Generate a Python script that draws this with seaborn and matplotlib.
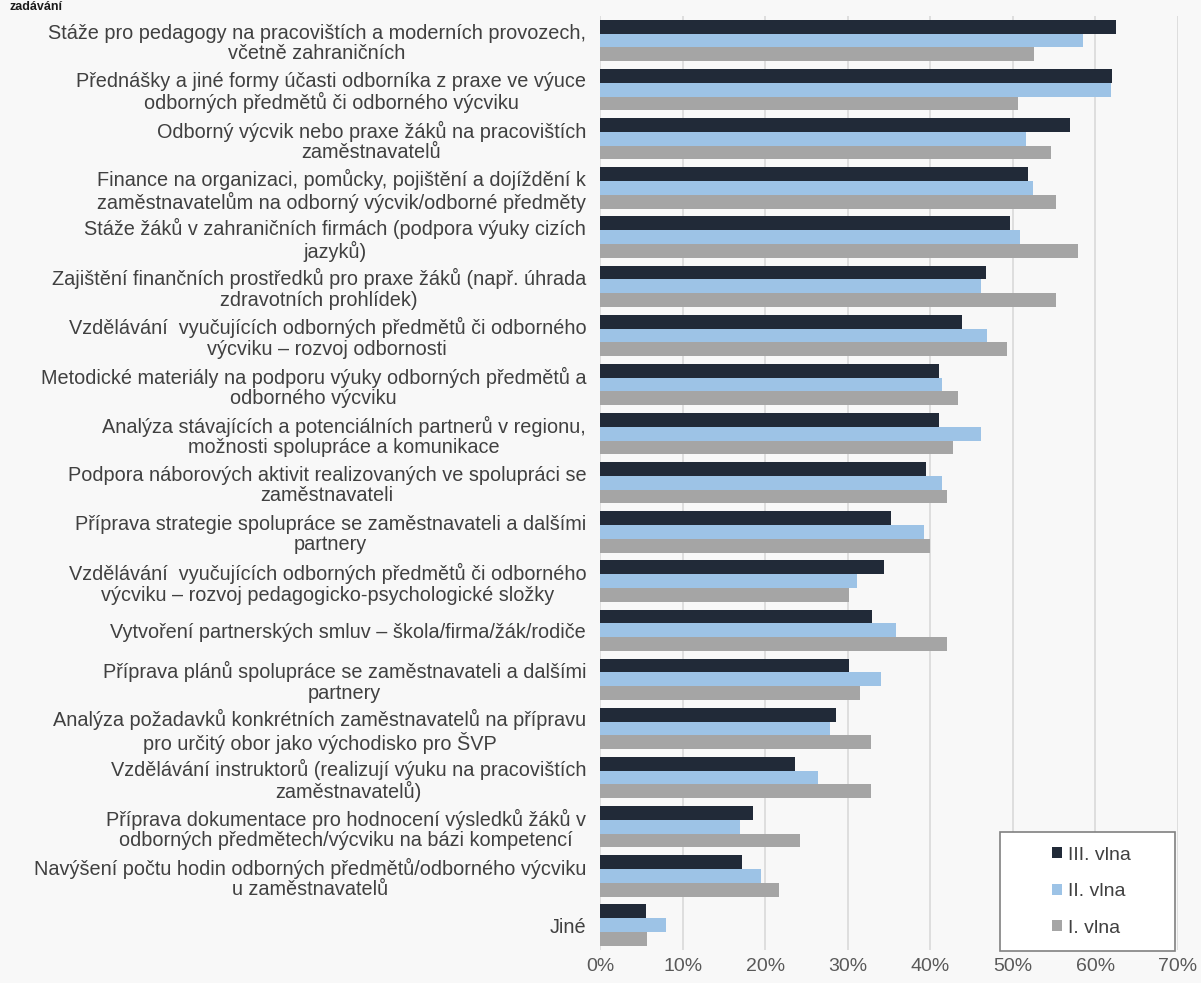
import numpy as np
import pandas as pd
import matplotlib
matplotlib.use("Agg")
import matplotlib.pyplot as plt
from matplotlib.patches import Rectangle
import seaborn as sns

# categories (top to bottom)
categories = [
    "Stáže pro pedagogy na pracovištích a moderních provozech,\nvčetně zahraničních",
    "Přednášky a jiné formy účasti odborníka z praxe ve výuce\nodborných předmětů či odborného výcviku",
    "Odborný výcvik nebo praxe žáků na pracovištích\nzaměstnavatelů",
    "Finance na organizaci, pomůcky, pojištění a dojíždění k\nzaměstnavatelům na odborný výcvik/odborné předměty",
    "Stáže žáků v zahraničních firmách (podpora výuky cizích\njazyků)",
    "Zajištění finančních prostředků pro praxe žáků (např. úhrada\nzdravotních prohlídek)",
    "Vzdělávání  vyučujících odborných předmětů či odborného\nvýcviku – rozvoj odbornosti",
    "Metodické materiály na podporu výuky odborných předmětů a\nodborného výcviku",
    "Analýza stávajících a potenciálních partnerů v regionu,\nmožnosti spolupráce a komunikace",
    "Podpora náborových aktivit realizovaných ve spolupráci se\nzaměstnavateli",
    "Příprava strategie spolupráce se zaměstnavateli a dalšími\npartnery",
    "Vzdělávání  vyučujících odborných předmětů či odborného\nvýcviku – rozvoj pedagogicko-psychologické složky",
    "Vytvoření partnerských smluv – škola/firma/žák/rodiče",
    "Příprava plánů spolupráce se zaměstnavateli a dalšími\npartnery",
    "Analýza požadavků konkrétních zaměstnavatelů na přípravu\npro určitý obor jako východisko pro ŠVP",
    "Vzdělávání instruktorů (realizují výuku na pracovištích\nzaměstnavatelů)",
    "Příprava dokumentace pro hodnocení výsledků žáků v\nodborných předmětech/výcviku na bázi kompetencí",
    "Navýšení počtu hodin odborných předmětů/odborného výcviku\nu zaměstnavatelů",
    "Jiné",
]

series_names = ["III. vlna", "II. vlna", "I. vlna"]

# values in percent
vlna_3 = [62.5, 62.0, 56.9, 51.8, 49.6, 46.8, 43.8, 41.0, 41.0, 39.5,
          35.2, 34.4, 33.0, 30.1, 28.6, 23.6, 18.5, 17.2, 5.6]
vlna_2 = [58.5, 61.9, 51.6, 52.4, 50.9, 46.2, 46.9, 41.4, 46.2, 41.4,
          39.3, 31.1, 35.9, 34.0, 27.8, 26.4, 16.9, 19.5, 8.0]
vlna_1 = [52.6, 50.6, 54.6, 55.2, 57.9, 55.2, 49.3, 43.3, 42.8, 42.0,
          40.0, 30.1, 42.0, 31.5, 32.8, 32.8, 24.2, 21.7, 5.7]

x_ticks = [0, 10, 20, 30, 40, 50, 60, 70]
x_ticklabels = ["0%", "10%", "20%", "30%", "40%", "50%", "60%", "70%"]

colors = ["#212a38", "#9dc3e6", "#a5a5a5"]

# long form table for seaborn
df = pd.DataFrame({
    "kategorie": categories * 3,
    "hodnota": vlna_3 + vlna_2 + vlna_1,
    "vlna": [series_names[0]] * len(categories) + [series_names[1]] * len(categories)
            + [series_names[2]] * len(categories),
})

sns.set_theme(style="white")
plt.rcParams["font.family"] = ["Liberation Sans", "DejaVu Sans"]

bg = "#f8f8f8"
fig = plt.figure(figsize=(12.01, 9.83), dpi=100, facecolor=bg)
ax = fig.add_axes([0.4996, 0.034, 0.4812, 0.9497])
ax.set_facecolor(bg)

sns.barplot(data=df, y="kategorie", x="hodnota", hue="vlna", order=categories,
            hue_order=series_names, palette=colors, width=0.84, orient="h",
            saturation=1, linewidth=0, ax=ax)

ax.set_xlim(0, 70)
ax.set_xticks(x_ticks)
ax.set_xticklabels(x_ticklabels, fontsize=14, color="#595959")
ax.tick_params(axis="x", length=0, pad=6)
ax.tick_params(axis="y", length=0, pad=10)
for lab in ax.get_yticklabels():
    lab.set_fontsize(14.3)
    lab.set_color("#404040")
    lab.set_multialignment("center")
    lab.set_linespacing(1.1)
ax.set_xlabel("")
ax.set_ylabel("")
ax.grid(axis="x", color="#d9d9d9", linewidth=1.2)
ax.set_axisbelow(True)
for s in ax.spines.values():
    s.set_visible(False)

# legend: frame drawn as its own box, entries inside it
box = Rectangle((0.692, -0.002), 0.303, 0.128, transform=ax.transAxes,
                facecolor="white", edgecolor="#808080", linewidth=1.2,
                clip_on=False, zorder=4)
ax.add_patch(box)
leg = ax.legend(loc="center left", bbox_to_anchor=(0.782, 0.062), fontsize=14,
                frameon=False, handlelength=0.5, handleheight=0.5,
                handletextpad=0.3, labelspacing=1.0, borderpad=0,
                borderaxespad=0)
leg.set_zorder(5)
for t in leg.get_texts():
    t.set_color("#404040")

# the cut title line at the very top
fig.text(0.008, 0.999, "zadávání", fontsize=9, fontweight="bold",
         color="#1a1a1a", va="top", ha="left")

fig.savefig("out.png", dpi=100, facecolor=bg)
